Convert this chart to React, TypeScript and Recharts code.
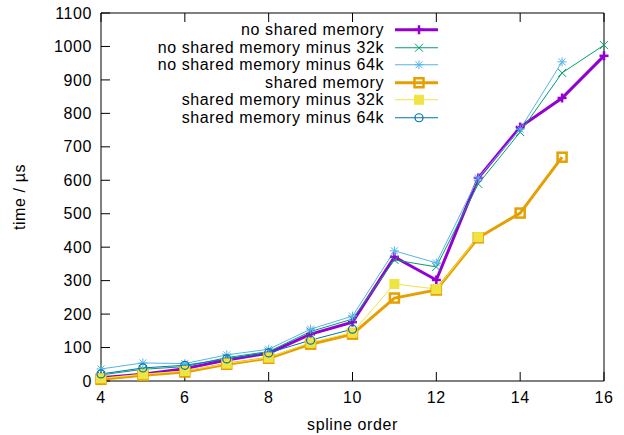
import { Legend, Line, LineChart, XAxis, YAxis } from "recharts";

const splineOrder = [4, 5, 6, 7, 8, 9, 10, 11, 12, 13, 14, 15, 16];
const noShared = [10, 20, 37, 63, 83, 140, 176, 371, 302, 607, 759, 846, 972];
const noShared32k = [18, 35, 43, 70, 88, 148, 185, 362, 341, 589, 744, 921, 1004];
const noShared64k = [36, 54, 52, 78, 95, 155, 194, 389, 353, 607, 753, 954, null];
const shared = [5, 17, 27, 50, 68, 110, 140, 248, 272, 428, 502, 669, null];
const shared32k = [8, 20, 30, 52, 70, 115, 145, 290, 275, 430, null, null, null];
const shared64k = [21, 39, 47, 66, 84, 122, 155, null, null, null, null, null, null];

const xTicks = [4, 6, 8, 10, 12, 14, 16];
const yTicks = [0, 100, 200, 300, 400, 500, 600, 700, 800, 900, 1000, 1100];

const data = splineOrder.map((order, i) => ({
  order,
  noShared: noShared[i],
  noShared32k: noShared32k[i],
  noShared64k: noShared64k[i],
  shared: shared[i],
  shared32k: shared32k[i],
  shared64k: shared64k[i],
}));

type Marker = "plus" | "cross" | "star" | "square" | "fsquare" | "circle";

const series: Array<{ key: string; name: string; color: string; width: number; marker: Marker }> = [
  { key: "noShared", name: "no shared memory", color: "#9400d3", width: 3, marker: "plus" },
  { key: "noShared32k", name: "no shared memory minus 32k", color: "#009e73", width: 1, marker: "cross" },
  { key: "noShared64k", name: "no shared memory minus 64k", color: "#56b4e9", width: 1, marker: "star" },
  { key: "shared", name: "shared memory", color: "#e69f00", width: 3, marker: "square" },
  { key: "shared32k", name: "shared memory minus 32k", color: "#f0e442", width: 1, marker: "fsquare" },
  { key: "shared64k", name: "shared memory minus 64k", color: "#0072b2", width: 1, marker: "circle" },
];

const FONT = "'Liberation Sans', Arial, sans-serif";
const FS = 16;
const LS = 0.6;
const ROW = 17.5;

function drawMarker(marker: Marker, color: string, cx: number, cy: number, key?: string) {
  const s = 4.5;
  switch (marker) {
    case "plus":
      return (
        <g key={key} stroke={color} strokeWidth={2.5}>
          <line x1={cx - s} x2={cx + s} y1={cy} y2={cy} />
          <line x1={cx} x2={cx} y1={cy - s} y2={cy + s} />
        </g>
      );
    case "cross":
      return (
        <g key={key} stroke={color} strokeWidth={1}>
          <line x1={cx - 4} x2={cx + 4} y1={cy - 4} y2={cy + 4} />
          <line x1={cx - 4} x2={cx + 4} y1={cy + 4} y2={cy - 4} />
        </g>
      );
    case "star":
      return (
        <g key={key} stroke={color} strokeWidth={1}>
          <line x1={cx - s} x2={cx + s} y1={cy} y2={cy} />
          <line x1={cx} x2={cx} y1={cy - s} y2={cy + s} />
          <line x1={cx - 3.5} x2={cx + 3.5} y1={cy - 3.5} y2={cy + 3.5} />
          <line x1={cx - 3.5} x2={cx + 3.5} y1={cy + 3.5} y2={cy - 3.5} />
        </g>
      );
    case "square":
      return (
        <rect key={key} x={cx - s} y={cy - s} width={2 * s} height={2 * s}
          fill="none" stroke={color} strokeWidth={2.5} />
      );
    case "fsquare":
      return (
        <rect key={key} x={cx - s} y={cy - s} width={2 * s} height={2 * s}
          fill={color} stroke={color} strokeWidth={1} />
      );
    default:
      return <circle key={key} cx={cx} cy={cy} r={4} fill="none" stroke={color} strokeWidth={1.2} />;
  }
}

function renderLegend() {
  return (
    <div style={{ position: "relative", width: 450, height: ROW * series.length, fontFamily: FONT }}>
      {series.map((s, i) => (
        <div
          key={s.key}
          style={{
            position: "absolute",
            left: 0,
            top: i * ROW,
            height: ROW,
            display: "flex",
            alignItems: "center",
          }}
        >
          <span
            style={{
              width: 384,
              textAlign: "right",
              fontSize: FS,
              letterSpacing: LS,
              lineHeight: `${ROW}px`,
              color: "#000",
              whiteSpace: "nowrap",
            }}
          >
            {s.name}
          </span>
          <svg width={50} height={ROW} style={{ marginLeft: 10 }}>
            <line x1={1} x2={44} y1={ROW / 2} y2={ROW / 2} stroke={s.color} strokeWidth={s.width} />
            {drawMarker(s.marker, s.color, 25, ROW / 2)}
          </svg>
        </div>
      ))}
    </div>
  );
}

const tickStyle = { fontSize: FS, fill: "#000", fontFamily: FONT, letterSpacing: LS };

export default function App() {
  return (
    <div style={{ position: "absolute", left: 0, top: 0, fontFamily: FONT }}>
      <LineChart width={624} height={435} data={data} margin={{ top: 0, right: 0, bottom: 0, left: 0 }}>
        <XAxis
          xAxisId="bottom"
          dataKey="order"
          type="number"
          domain={[4, 16]}
          ticks={xTicks}
          height={54}
          stroke="#000"
          tickSize={-9}
          tickMargin={20}
          tick={tickStyle}
          label={{
            content: (props: any) => {
              const vb = props.viewBox;
              return (
                <text x={vb.x + vb.width / 2} y={vb.y + 49} textAnchor="middle"
                  fontSize={FS} fontFamily={FONT} letterSpacing={LS} fill="#000">
                  spline order
                </text>
              );
            },
          }}
        />
        <XAxis
          xAxisId="top"
          orientation="top"
          dataKey="order"
          type="number"
          domain={[4, 16]}
          ticks={xTicks}
          height={13}
          stroke="#000"
          tickSize={-9}
          tickFormatter={() => ""}
        />
        <YAxis
          yAxisId="left"
          type="number"
          domain={[0, 1100]}
          ticks={yTicks}
          width={101}
          stroke="#000"
          tickSize={-9}
          tickMargin={18}
          tick={tickStyle}
          label={{
            content: (props: any) => {
              const vb = props.viewBox;
              const x = vb.x + 25;
              const y = vb.y + vb.height / 2;
              return (
                <text x={x} y={y} transform={`rotate(-90 ${x} ${y})`} textAnchor="middle"
                  fontSize={FS} fontFamily={FONT} letterSpacing={LS} fill="#000">
                  time / µs
                </text>
              );
            },
          }}
        />
        <YAxis
          yAxisId="right"
          orientation="right"
          type="number"
          domain={[0, 1100]}
          ticks={yTicks}
          width={20}
          stroke="#000"
          tickSize={-9}
          tickFormatter={() => ""}
        />
        <Legend
          layout="vertical"
          align="center"
          verticalAlign="middle"
          wrapperStyle={{ top: 21, left: 0, width: 450 }}
          content={renderLegend}
        />
        {series.map((s) => (
          <Line
            key={s.key}
            xAxisId="bottom"
            yAxisId="left"
            type="linear"
            dataKey={s.key}
            name={s.name}
            stroke={s.color}
            strokeWidth={s.width}
            isAnimationActive={false}
            activeDot={false}
            dot={(p: any) => {
              if (p.cx == null || p.cy == null || p.value == null) return <g key={`${s.key}-${p.index}`} />;
              return drawMarker(s.marker, s.color, p.cx, p.cy, `${s.key}-${p.index}`);
            }}
          />
        ))}
      </LineChart>
    </div>
  );
}
